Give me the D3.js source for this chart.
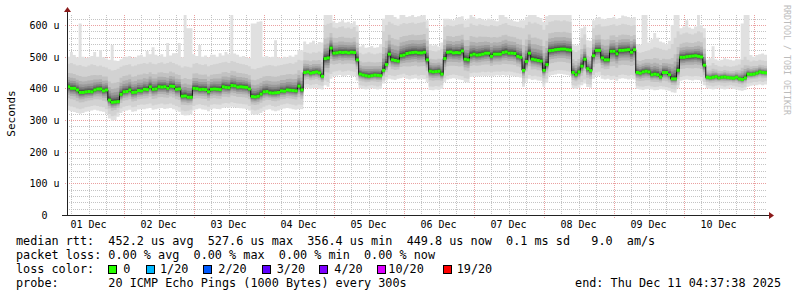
<!DOCTYPE html>
<html>
<head>
<meta charset="utf-8">
<script src="https://cdn.jsdelivr.net/npm/d3@7"></script>
<style>
  html, body { margin: 0; padding: 0; background: #fff; }
  svg { display: block; font-family: "DejaVu Sans Mono", monospace; }
  text { white-space: pre; }
</style>
</head>
<body>
<div id="vis"></div>
<script>
// hourly RRD rows (values in microseconds)
const median = [
  405, 400, 400, 395, 387, 387, 389, 390, 389, 395,
  398, 398, 392, 395, 363, 356, 357, 358, 381, 389,
  390, 395, 387, 388, 393, 392, 397, 396, 405, 397,
  398, 405, 404, 405, 400, 407, 406, 397, 398, 375,
  376, 372, 372, 400, 399, 396, 397, 396, 389, 397,
  398, 397, 396, 405, 403, 402, 409, 408, 404, 405,
  404, 403, 398, 374, 373, 375, 382, 389, 390, 386,
  385, 386, 387, 392, 391, 395, 394, 393, 392, 407,
  395, 450, 452, 448, 450, 452, 449, 438, 494, 496,
  527, 511, 512, 514, 513, 514, 512, 514, 513, 490,
  445, 442, 440, 438, 440, 442, 441, 440, 457, 475,
  508, 490, 488, 486, 503, 505, 510, 512, 513, 514,
  512, 512, 514, 490, 454, 452, 453, 454, 445, 494,
  514, 515, 512, 513, 512, 518, 492, 490, 505, 508,
  505, 506, 508, 511, 511, 501, 508, 508, 508, 513,
  515, 511, 511, 510, 501, 498, 457, 485, 511, 492,
  490, 488, 486, 457, 475, 519, 520, 522, 523, 524,
  524, 522, 521, 450, 443, 452, 470, 492, 462, 456,
  503, 520, 520, 496, 490, 490, 517, 517, 509, 520,
  520, 521, 522, 514, 522, 450, 448, 452, 454, 452,
  443, 445, 443, 436, 450, 450, 443, 430, 430, 457,
  498, 498, 500, 501, 502, 503, 501, 499, 473, 435,
  433, 435, 437, 433, 435, 436, 434, 433, 432, 435,
  430, 428, 433, 445, 444, 445, 448, 452, 450, 449
];

// fastest ping of each row
const pingMin = [
  330, 328, 325, 322, 320, 322, 326, 328, 330, 332,
  330, 328, 326, 320, 305, 298, 300, 310, 322, 328,
  330, 332, 326, 328, 333, 335, 334, 336, 338, 332,
  334, 336, 338, 335, 336, 338, 334, 330, 326, 316,
  314, 315, 318, 330, 334, 336, 333, 332, 328, 334,
  336, 335, 334, 338, 340, 338, 342, 340, 338, 337,
  336, 335, 330, 318, 316, 318, 322, 328, 332, 334,
  330, 328, 330, 334, 336, 338, 336, 334, 332, 335,
  334, 400, 402, 398, 400, 402, 398, 396, 410, 405,
  430, 438, 440, 442, 438, 440, 442, 440, 438, 425,
  400, 398, 396, 398, 400, 398, 396, 398, 415, 425,
  430, 428, 426, 430, 432, 434, 430, 428, 430, 432,
  428, 430, 429, 420, 395, 394, 396, 395, 398, 420,
  428, 430, 432, 430, 428, 426, 420, 418, 436, 438,
  437, 438, 440, 439, 440, 438, 440, 441, 440, 442,
  440, 441, 440, 438, 436, 434, 405, 420, 430, 426,
  428, 425, 424, 405, 418, 440, 442, 444, 446, 445,
  444, 442, 440, 400, 398, 402, 410, 415, 404, 402,
  430, 438, 440, 430, 428, 430, 426, 428, 424, 430,
  432, 430, 428, 430, 428, 398, 396, 395, 397, 398,
  396, 394, 395, 397, 396, 394, 392, 388, 386, 400,
  424, 426, 428, 426, 425, 427, 426, 424, 410, 400,
  398, 396, 398, 400, 398, 396, 398, 400, 398, 396,
  394, 392, 395, 405, 408, 410, 410, 412, 410, 412
];

// second fastest ping
const pingLow = [
  345, 343, 340, 336, 334, 336, 340, 342, 344, 346,
  344, 342, 340, 334, 318, 312, 314, 324, 336, 342,
  344, 346, 340, 342, 347, 349, 348, 350, 352, 346,
  348, 350, 352, 349, 350, 352, 348, 344, 340, 330,
  328, 329, 332, 344, 348, 350, 347, 346, 342, 348,
  350, 349, 348, 352, 354, 352, 356, 354, 352, 351,
  350, 349, 344, 332, 330, 332, 336, 342, 346, 348,
  344, 342, 344, 348, 350, 352, 350, 348, 346, 349,
  348, 412, 414, 410, 412, 414, 410, 408, 425, 420,
  445, 452, 454, 456, 452, 454, 456, 454, 452, 440,
  410, 408, 406, 408, 410, 408, 406, 408, 425, 435,
  442, 440, 438, 442, 444, 446, 442, 440, 442, 444,
  440, 442, 441, 432, 406, 405, 407, 406, 410, 432,
  440, 442, 444, 442, 440, 438, 432, 430, 448, 450,
  449, 450, 452, 451, 452, 450, 452, 453, 452, 454,
  452, 453, 452, 450, 448, 446, 415, 432, 442, 438,
  440, 437, 436, 415, 430, 452, 454, 456, 458, 457,
  456, 454, 452, 410, 408, 412, 420, 428, 414, 412,
  442, 450, 452, 442, 440, 442, 438, 440, 436, 442,
  444, 442, 440, 442, 440, 408, 406, 405, 407, 408,
  406, 404, 405, 407, 406, 404, 402, 398, 396, 410,
  436, 438, 440, 438, 437, 439, 438, 436, 420, 410,
  408, 406, 408, 410, 408, 406, 408, 410, 408, 406,
  404, 402, 405, 415, 418, 420, 420, 422, 420, 422
];

// second slowest ping
const pingHigh = [
  478, 480, 476, 472, 474, 470, 468, 472, 476, 474,
  470, 472, 468, 466, 460, 456, 458, 462, 468, 472,
  474, 476, 470, 472, 476, 478, 480, 478, 482, 478,
  476, 480, 482, 478, 480, 484, 480, 476, 472, 466,
  470, 468, 466, 478, 480, 476, 474, 476, 470, 474,
  476, 478, 480, 482, 484, 480, 486, 484, 480, 478,
  476, 474, 470, 462, 460, 464, 466, 470, 472, 474,
  472, 470, 472, 474, 476, 478, 480, 478, 482, 490,
  488, 515, 512, 510, 514, 512, 516, 512, 600, 604,
  606, 592, 590, 594, 596, 590, 592, 588, 594, 580,
  512, 508, 510, 514, 510, 508, 510, 512, 580, 600,
  610, 605, 600, 598, 602, 606, 604, 606, 608, 604,
  606, 608, 610, 590, 520, 518, 516, 520, 525, 595,
  600, 598, 596, 600, 602, 604, 592, 594, 605, 600,
  598, 602, 600, 598, 596, 600, 598, 596, 600, 604,
  606, 600, 598, 596, 594, 592, 590, 600, 610, 605,
  608, 604, 600, 585, 600, 610, 612, 615, 614, 612,
  615, 612, 610, 520, 515, 520, 560, 570, 530, 528,
  590, 600, 602, 595, 596, 598, 600, 602, 598, 600,
  604, 602, 600, 598, 600, 515, 512, 515, 518, 520,
  525, 530, 528, 525, 522, 520, 525, 540, 560, 580,
  570, 574, 576, 572, 570, 574, 580, 576, 560, 470,
  472, 480, 474, 470, 468, 472, 470, 468, 470, 472,
  475, 490, 500, 490, 485, 488, 486, 490, 488, 486
];

// slowest ping
const pingMax = [
  500, 515, 505, 498, 605, 500, 496, 498, 502, 515,
  500, 520, 498, 494, 490, 537, 488, 486, 492, 498,
  500, 502, 496, 498, 504, 506, 500, 518, 508, 530,
  506, 502, 508, 500, 543, 504, 511, 511, 543, 498,
  632, 590, 590, 508, 502, 537, 500, 504, 498, 506,
  506, 500, 511, 504, 515, 508, 632, 510, 506, 500,
  502, 498, 496, 605, 605, 610, 612, 500, 502, 498,
  500, 552, 498, 496, 500, 498, 504, 500, 506, 520,
  520, 548, 540, 545, 550, 540, 546, 545, 632, 632,
  632, 612, 606, 610, 615, 608, 610, 605, 612, 600,
  532, 538, 528, 530, 534, 528, 530, 540, 620, 632,
  632, 632, 625, 620, 632, 632, 625, 628, 632, 625,
  628, 630, 632, 615, 540, 535, 538, 532, 545, 620,
  620, 618, 615, 622, 625, 628, 615, 620, 632, 625,
  620, 622, 618, 615, 620, 618, 615, 612, 632, 632,
  625, 620, 616, 612, 610, 615, 615, 625, 632, 632,
  632, 625, 622, 610, 628, 632, 632, 632, 632, 632,
  632, 632, 632, 540, 535, 537, 590, 595, 552, 550,
  615, 622, 625, 620, 618, 622, 622, 625, 620, 622,
  630, 628, 625, 622, 625, 540, 538, 632, 632, 545,
  555, 575, 560, 548, 545, 540, 550, 600, 632, 632,
  590, 595, 615, 592, 588, 595, 632, 600, 590, 490,
  495, 533, 492, 488, 490, 495, 492, 490, 488, 492,
  492, 605, 632, 632, 505, 500, 505, 508, 510, 506
];

const yTickValues = [0, 100, 200, 300, 400, 500, 600];
const yTickLabels = ["  0  ", "100 u", "200 u", "300 u", "400 u", "500 u", "600 u"];

const lossLevels = ["0", "1/20", "2/20", "3/20", "4/20", "10/20", "19/20"];
const lossColors = ["#26ff00", "#00b8ff", "#0059ff", "#5e00ff", "#7e00ff", "#dd00ff", "#ff0000"];

const legendLines = [
  "median rtt:  452.2 us avg  527.6 us max  356.4 us min  449.8 us now  0.1 ms sd   9.0  am/s",
  "packet loss: 0.00 % avg  0.00 % max  0.00 % min  0.00 % now"
];
const probeText = "probe:       20 ICMP Echo Pings (1000 Bytes) every 300s";
const endText = "end: Thu Dec 11 04:37:38 2025";

const W = 797, H = 297;
const plotL = 67, plotR = 767, plotT = 15, plotB = 215;
const tStart = Date.UTC(2025, 11, 1, 4, 37, 38);
const tEnd = Date.UTC(2025, 11, 11, 4, 37, 38);
const step = 3600 * 1000;

const x = d3.scaleUtc().domain([tStart, tEnd]).range([plotL, plotR]);
const y = d3.scaleLinear().domain([0, 631.6]).range([plotB, plotT]);
const px = v => Math.round(v) + 0.5;

const svg = d3.select("#vis").append("svg")
  .attr("width", W).attr("height", H)
  .attr("viewBox", `0 0 ${W} ${H}`);

svg.append("rect").attr("width", W).attr("height", H).attr("fill", "#fff");

svg.append("defs").append("clipPath").attr("id", "plot")
  .append("rect").attr("x", plotL).attr("y", plotT)
  .attr("width", plotR - plotL).attr("height", plotB - plotT);

// --- grid
const grid = svg.append("g").attr("shape-rendering", "crispEdges");
const minorY = d3.range(20, 640, 20).filter(v => v % 100 !== 0 && y(v) >= plotT);
const majorY = yTickValues.filter(v => v > 0);
const minorX = d3.utcHour.every(6).range(tStart, tEnd).filter(d => d.getUTCHours() !== 0);
const majorX = d3.utcDay.range(tStart, tEnd);

grid.selectAll(".hmin").data(minorY).join("line")
  .attr("x1", plotL).attr("x2", plotR)
  .attr("y1", d => px(y(d))).attr("y2", d => px(y(d)))
  .attr("stroke", "#c4c4c4").attr("stroke-dasharray", "1,1");
grid.selectAll(".vmin").data(minorX).join("line")
  .attr("x1", d => px(x(d))).attr("x2", d => px(x(d)))
  .attr("y1", plotT).attr("y2", plotB + 2)
  .attr("stroke", "#c4c4c4").attr("stroke-dasharray", "1,1");
grid.selectAll(".hmaj").data(majorY).join("line")
  .attr("x1", plotL - 2).attr("x2", plotR)
  .attr("y1", d => px(y(d))).attr("y2", d => px(y(d)))
  .attr("stroke", "#eaa0a0").attr("stroke-dasharray", "1,1");
grid.selectAll(".vmaj").data(majorX).join("line")
  .attr("x1", d => px(x(d))).attr("x2", d => px(x(d)))
  .attr("y1", plotT).attr("y2", plotB + 3)
  .attr("stroke", "#eaa0a0").attr("stroke-dasharray", "1,1");

// --- smoke: 10 nested layers, outer one is min..max ping
const rows = median.map((m, i) => ({
  t: tStart + i * step, m, lo: pingMin[i], lo2: pingLow[i], hi2: pingHigh[i], hi: pingMax[i]
}));
const last = rows[rows.length - 1];
const rowsEnd = rows.concat([Object.assign({}, last, { t: tEnd })]);

const shades = ["#e0e0e0", "#d2d2d2", "#c2c2c2", "#afafaf", "#9a9a9a", "#848484", "#6c6c6c", "#545454", "#3c3c3c", "#262626"];
const inner = [0.6, 0.42, 0.3, 0.21, 0.14, 0.09, 0.055, 0.025];
const layerBounds = [
  d => [d.lo, d.hi],
  d => [d.lo2, d.hi2]
].concat(inner.map(f => d => [d.m - (d.m - d.lo2) * f, d.m + (d.hi2 - d.m) * f]));

const smoke = svg.append("g").attr("clip-path", "url(#plot)");
layerBounds.forEach((fn, i) => {
  const area = d3.area()
    .curve(d3.curveStepAfter)
    .x(d => x(d.t))
    .y0(d => y(fn(d)[0]))
    .y1(d => y(fn(d)[1]));
  smoke.append("path").datum(rowsEnd)
    .attr("d", area)
    .attr("fill", shades[i]);
});

// median: dark step line plus loss coloured bars
const medLine = d3.line().curve(d3.curveStepAfter)
  .x(d => x(d.t)).y(d => y(d.m));
smoke.append("path").datum(rowsEnd)
  .attr("d", medLine).attr("fill", "none")
  .attr("stroke", "#111").attr("stroke-width", 1);
smoke.selectAll(".med").data(rows).join("rect")
  .attr("x", d => x(d.t)).attr("width", d => x(d.t + step) - x(d.t) + 0.3)
  .attr("y", d => y(d.m) - 1.5).attr("height", 3)
  .attr("fill", lossColors[0]);

// --- axes
const axisCol = "#222";
svg.append("line").attr("x1", px(plotL)).attr("x2", px(plotL))
  .attr("y1", plotB + 1).attr("y2", 11).attr("stroke", axisCol).attr("shape-rendering", "crispEdges");
svg.append("line").attr("x1", plotL - 5).attr("x2", plotR + 3)
  .attr("y1", px(plotB)).attr("y2", px(plotB)).attr("stroke", axisCol).attr("shape-rendering", "crispEdges");
svg.append("path").attr("d", `M${plotL - 3},12 L${plotL + 4},12 L${plotL + 0.5},7 Z`).attr("fill", "#8b1a1a");
svg.append("path").attr("d", `M${plotR + 2},${plotB - 3} L${plotR + 2},${plotB + 4} L${plotR + 7},${plotB + 0.5} Z`).attr("fill", "#8b1a1a");

// y tick labels
svg.append("g").selectAll("text").data(yTickValues).join("text")
  .attr("x", 59.5).attr("y", d => y(d) + 4)
  .attr("text-anchor", "end").attr("font-size", 10).attr("fill", "#000")
  .text((d, i) => yTickLabels[i]);

// x tick labels at noon
const dayLabels = d3.utcDay.range(d3.utcDay.floor(tStart), tEnd)
  .map(d => d3.utcHour.offset(d, 12))
  .filter(d => +d > tStart && +d < tEnd);
svg.append("g").selectAll("text").data(dayLabels).join("text")
  .attr("x", d => x(d)).attr("y", 228)
  .attr("text-anchor", "middle").attr("font-size", 10).attr("fill", "#000")
  .text(d3.utcFormat("%d %b"));

// axis title
svg.append("text").attr("transform", "translate(15,113.5) rotate(-90)")
  .attr("text-anchor", "middle").attr("font-size", 11).attr("fill", "#000")
  .text("Seconds");

// watermark
svg.append("text").attr("transform", "translate(784,5) rotate(90)")
  .attr("font-size", 8.3).attr("fill", "#bcbcbc")
  .text("RRDTOOL / TOBI OETIKER");

// --- legend
const lg = svg.append("g").attr("font-size", 11.8).attr("fill", "#000");
lg.selectAll(".ln").data(legendLines).join("text")
  .attr("x", 16).attr("y", (d, i) => 245 + i * 14)
  .text(d => d);
lg.append("text").attr("x", 16).attr("y", 273).text("loss color:");
const boxX = [108, 145.7, 203.3, 261.7, 319.3, 377.3, 442.7];
const labX = [123.3, 160, 218.3, 276.7, 334.3, 388.3, 456.7];
lossLevels.forEach((l, i) => {
  lg.append("rect").attr("x", Math.round(boxX[i]) + 0.5).attr("y", 265.5)
    .attr("width", 8).attr("height", 8)
    .attr("fill", lossColors[i]).attr("stroke", "#000").attr("shape-rendering", "crispEdges");
  lg.append("text").attr("x", labX[i]).attr("y", 273).text(l);
});
lg.append("text").attr("x", 16).attr("y", 287).text(probeText);
lg.append("text").attr("x", 781).attr("y", 287).attr("text-anchor", "end").text(endText);
</script>
</body>
</html>
